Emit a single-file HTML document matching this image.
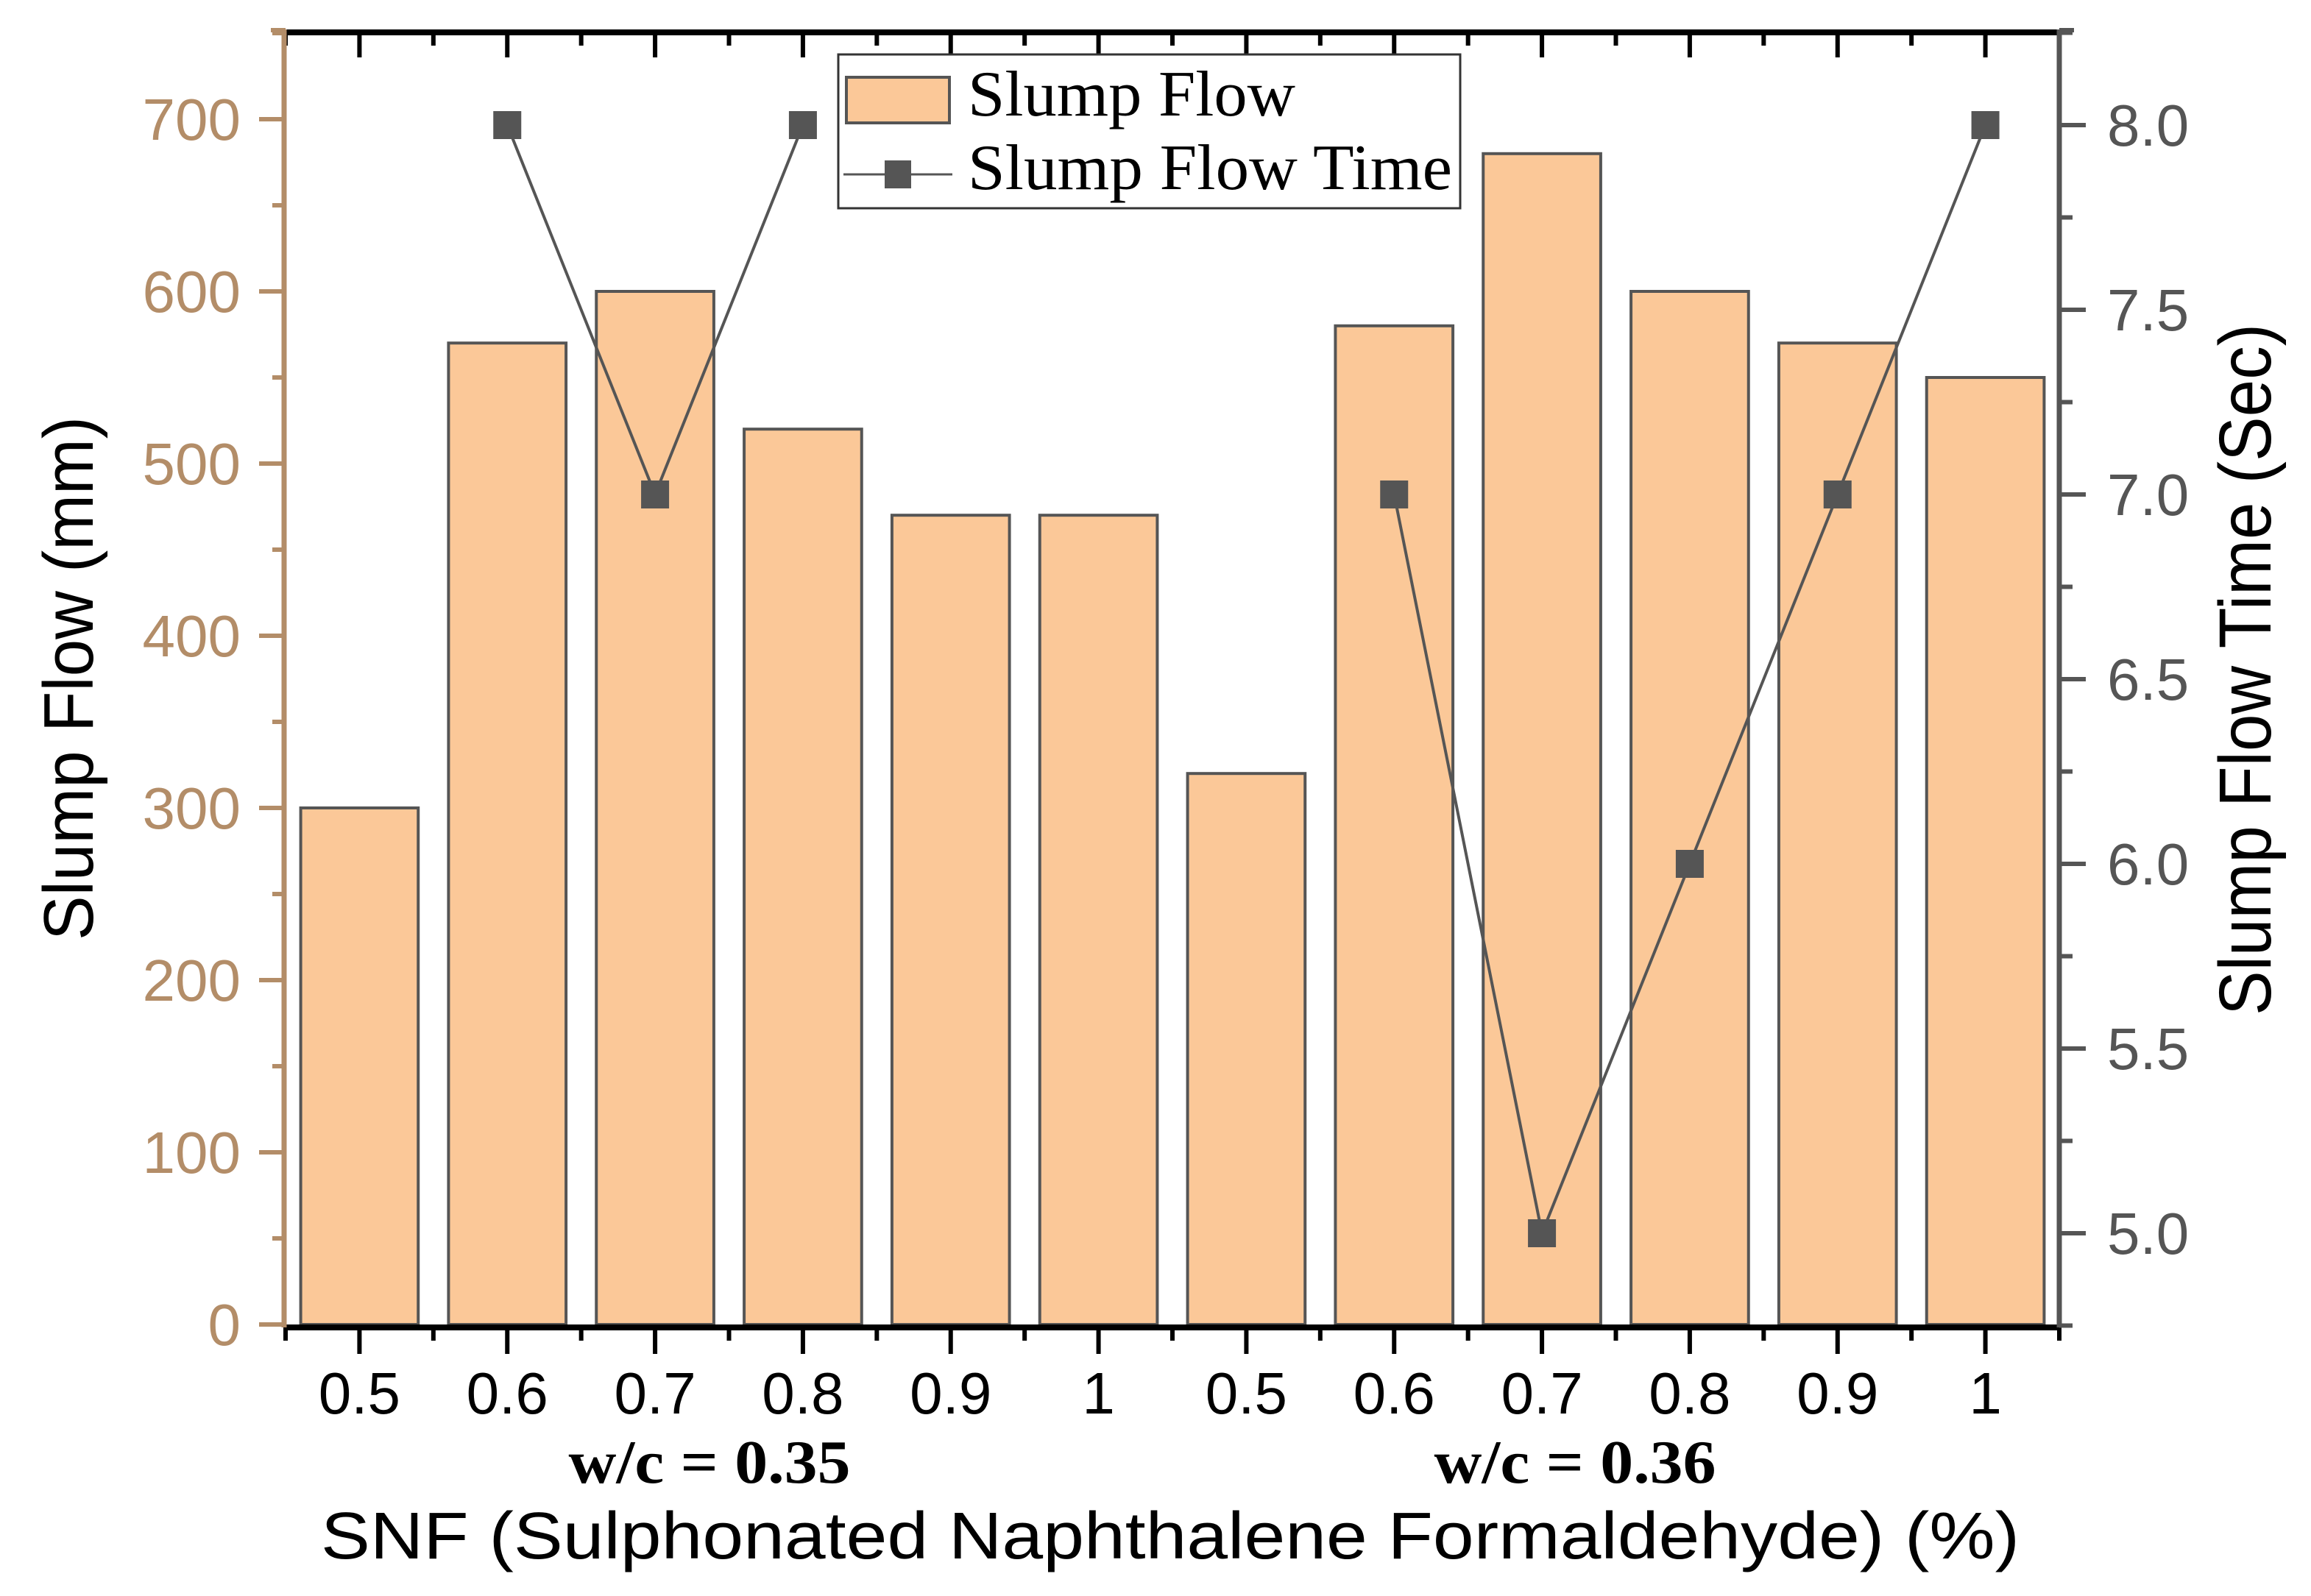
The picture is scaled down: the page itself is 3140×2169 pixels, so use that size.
<!DOCTYPE html>
<html><head><meta charset="utf-8"><style>
html,body{margin:0;padding:0;background:#fff;}
svg{display:block;}
</style></head><body>
<svg id="chart" width="3140" height="2169" viewBox="0 0 3140 2169" xmlns="http://www.w3.org/2000/svg">
<g id="bars"></g>
<g id="line"></g>
<g id="axes"></g>
<text transform="translate(126,922) rotate(-90)" text-anchor="middle" font-family="Liberation Sans, sans-serif" font-size="96" textLength="712" lengthAdjust="spacingAndGlyphs">Slump Flow (mm)</text>
<text transform="translate(3085,910) rotate(-90)" text-anchor="middle" font-family="Liberation Sans, sans-serif" font-size="100" textLength="940" lengthAdjust="spacingAndGlyphs">Slump Flow Time (Sec)</text>
<text x="964" y="2015" text-anchor="middle" font-family="Liberation Serif, serif" font-weight="bold" font-size="84" textLength="383" lengthAdjust="spacingAndGlyphs">w/c = 0.35</text>
<text x="2140" y="2015" text-anchor="middle" font-family="Liberation Serif, serif" font-weight="bold" font-size="84" textLength="383" lengthAdjust="spacingAndGlyphs">w/c = 0.36</text>
<text x="1590" y="2118" text-anchor="middle" font-family="Liberation Sans, sans-serif" font-size="90" textLength="2308" lengthAdjust="spacingAndGlyphs">SNF (Sulphonated Naphthalene Formaldehyde) (%)</text>
<g>
<rect x="1139" y="74" width="845" height="209" fill="#fff" stroke="#333" stroke-width="3"/>
<rect x="1150" y="105" width="140" height="62" fill="#fbc898" stroke="#555" stroke-width="4"/>
<text x="1315" y="157" font-family="Liberation Serif, serif" font-size="88" textLength="445" lengthAdjust="spacingAndGlyphs">Slump Flow</text>
<line x1="1146" y1="237" x2="1294" y2="237" stroke="#555" stroke-width="3"/>
<rect x="1202" y="218" width="36" height="38" fill="#555"/>
<text x="1315" y="257" font-family="Liberation Serif, serif" font-size="88" textLength="658" lengthAdjust="spacingAndGlyphs">Slump Flow Time</text>
</g>
</svg>
<script>
const categories = ["0.5","0.6","0.7","0.8","0.9","1","0.5","0.6","0.7","0.8","0.9","1"];
const slumpFlow = [300,570,600,520,470,470,320,580,680,600,570,550];
const slumpTime = [null,8,7,8,null,null,null,7,5,6,7,8];
const leftTicks = [0,100,200,300,400,500,600,700];
const rightTicks = ["5.0","5.5","6.0","6.5","7.0","7.5","8.0"];

const NS = "http://www.w3.org/2000/svg";
const X0 = 388, X1 = 2798, YB = 1804, YT = 44;
const band = (X1 - X0) / categories.length;
function xC(i){ return X0 + band * (i + 0.5); }
function yL(v){ return 1800 - v * 2.34; }
function yR(v){ return 1676 - (v - 5) * 502; }
function mk(tag, attrs, parent){ const e = document.createElementNS(NS, tag); for (const k in attrs) e.setAttribute(k, attrs[k]); parent.appendChild(e); return e; }

const gb = document.getElementById('bars');
slumpFlow.forEach((v, i) => {
  const w = band * 0.795;
  const r = mk('rect', {x: xC(i) - w/2, y: yL(v), width: w, height: yL(0) - yL(v), fill: '#fbc898', stroke: '#555', 'stroke-width': 4}, gb);
  
  
});

const gl = document.getElementById('line');
for (let i = 0; i < slumpTime.length - 1; i++) {
  if (slumpTime[i] != null && slumpTime[i+1] != null) {
    const l = mk('line', {x1: xC(i), y1: yR(slumpTime[i]), x2: xC(i+1), y2: yR(slumpTime[i+1]), stroke: '#555', 'stroke-width': 4}, gl);
    
    
  }
}
slumpTime.forEach((v, i) => {
  if (v == null) return;
  const m = mk('rect', {x: xC(i) - 19, y: yR(v) - 19, width: 38, height: 38, fill: '#555'}, gl);
  
  
});

const ga = document.getElementById('axes');
const tan = '#b38d68', gray = '#555';
let a = mk('line', {x1: X0, y1: YT, x2: X1, y2: YT, stroke: '#000', 'stroke-width': 8}, ga);
 
a = mk('line', {x1: X0 - 2, y1: YB, x2: X1, y2: YB, stroke: '#000', 'stroke-width': 8}, ga);
 
for (let i = 0; i <= categories.length; i++) {
  const x = X0 + band * i;
  mk('line', {x1: x, y1: YB, x2: x, y2: YB + 18, stroke: '#000', 'stroke-width': 6}, ga);
  mk('line', {x1: x, y1: YT, x2: x, y2: YT + 18, stroke: '#000', 'stroke-width': 6}, ga);
}
categories.forEach((c, i) => {
  mk('line', {x1: xC(i), y1: YB, x2: xC(i), y2: YB + 36, stroke: '#000', 'stroke-width': 6}, ga);
  mk('line', {x1: xC(i), y1: YT, x2: xC(i), y2: YT + 34, stroke: '#000', 'stroke-width': 6}, ga);
  const t = mk('text', {x: xC(i), y: 1921, 'text-anchor': 'middle', 'font-family': 'Liberation Sans, sans-serif', 'font-size': 80}, ga);
  t.textContent = c;
  
  
});
a = mk('line', {x1: X0 - 2, y1: YT - 4, x2: X0 - 2, y2: YB, stroke: tan, 'stroke-width': 7}, ga);
 
mk('line', {x1: X0 - 20, y1: YT - 3, x2: X0, y2: YT - 3, stroke: tan, 'stroke-width': 6}, ga);
leftTicks.forEach(v => {
  mk('line', {x1: X0 - 36, y1: yL(v), x2: X0, y2: yL(v), stroke: tan, 'stroke-width': 6}, ga);
  mk('line', {x1: X0 - 18, y1: yL(v + 50), x2: X0, y2: yL(v + 50), stroke: tan, 'stroke-width': 6}, ga);
  const t = mk('text', {x: 327, y: yL(v) + 28, 'text-anchor': 'end', 'font-family': 'Liberation Sans, sans-serif', 'font-size': 80, fill: tan}, ga);
  t.textContent = v;
  
  
});
a = mk('line', {x1: X1, y1: YT - 4, x2: X1, y2: YB, stroke: gray, 'stroke-width': 7}, ga);
 
mk('line', {x1: X1, y1: YT - 3, x2: X1 + 20, y2: YT - 3, stroke: gray, 'stroke-width': 6}, ga);
rightTicks.forEach(s => {
  const v = parseFloat(s);
  mk('line', {x1: X1, y1: yR(v), x2: X1 + 36, y2: yR(v), stroke: gray, 'stroke-width': 6}, ga);
  mk('line', {x1: X1, y1: yR(v + 0.25), x2: X1 + 18, y2: yR(v + 0.25), stroke: gray, 'stroke-width': 6}, ga);
  const t = mk('text', {x: 2863, y: yR(v) + 28, 'font-family': 'Liberation Sans, sans-serif', 'font-size': 80, fill: gray}, ga);
  t.textContent = s;
  
  
});
mk('line', {x1: X1, y1: yR(4.75), x2: X1 + 18, y2: yR(4.75), stroke: gray, 'stroke-width': 6}, ga);
</script>
</body></html>
